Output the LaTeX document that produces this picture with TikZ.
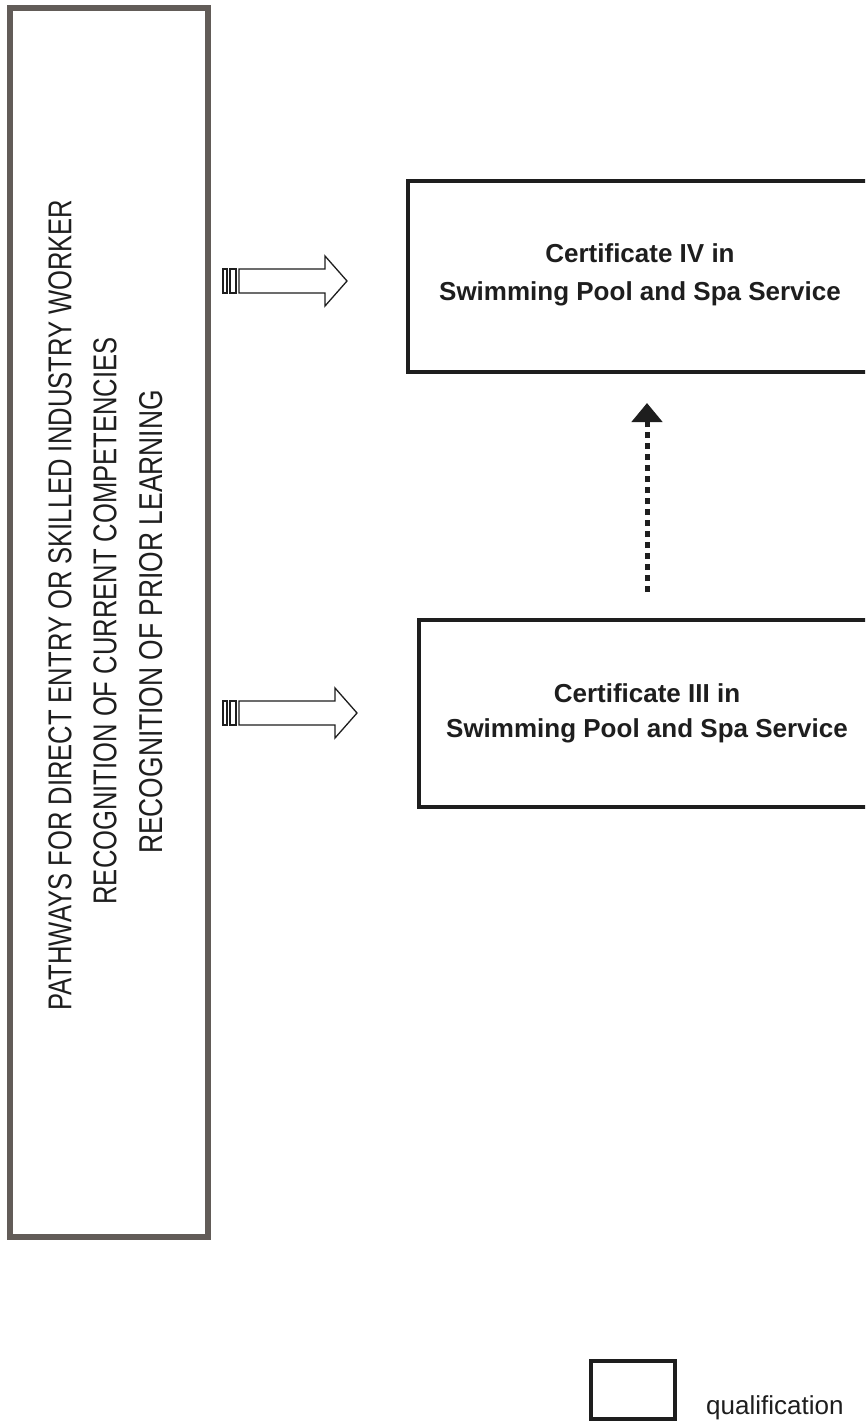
\documentclass[tikz,border=0pt]{standalone}
\usepackage{fontspec}
\setmainfont{Liberation Sans}
\usetikzlibrary{arrows.meta}
\definecolor{lbox}{HTML}{625C58}
\definecolor{ink}{HTML}{1E1E1E}
\begin{document}
\begin{tikzpicture}[x=1pt,y=-1pt,
  certbox/.style={draw=ink, line width=4pt, inner sep=0pt},
  sidebox/.style={draw=lbox, line width=6pt, inner sep=0pt},
  certtext/.style={font=\fontsize{26}{30}\selectfont\bfseries, text=ink, inner sep=0pt, anchor=base},
  sidetext/.style={font=\fontsize{33}{36}\selectfont, text=ink, inner sep=0pt, rotate=90},
  blockarrow/.style={draw=ink, line width=1.3pt, fill=white, line join=miter},
  dotarrow/.style={draw=ink, line width=5pt, dash pattern=on 6pt off 5pt, -{Triangle[width=30pt,length=19pt]}}
]
\useasboundingbox (0,0) rectangle (865,1422);
\clip (0,0) rectangle (865,1422);
\fill[white] (0,0) rectangle (865,1422);

% left pathway box
\node[sidebox, minimum width=197.5pt, minimum height=1229.5pt] (side) at (108.75,622.25) {};
\node[sidetext] (s1) at (60,605) {\scalebox{0.775}[1]{PATHWAYS FOR DIRECT ENTRY OR SKILLED INDUSTRY WORKER}};
\node[sidetext] (s2) at (105,621) {\scalebox{0.775}[1]{RECOGNITION OF CURRENT COMPETENCIES}};
\node[sidetext] (s3) at (151,622) {\scalebox{0.8}[1]{RECOGNITION OF PRIOR LEARNING}};

% certificate boxes
\node[certbox, minimum width=472.5pt, minimum height=191pt] (b4) at (643.75,276) {};
\node[certtext] (t4a) at (640,262) {Certificate IV in};
\node[certtext] (t4b) at (640,300) {Swimming Pool and Spa Service};

\node[certbox, minimum width=461.5pt, minimum height=187pt] (b3) at (649.25,713.5) {};
\node[certtext] (t3a) at (647,702) {Certificate III in};
\node[certtext] (t3b) at (647,737) {Swimming Pool and Spa Service};

% block arrows
\draw[blockarrow] (239,269) -- (325,269) -- (325,256) -- (347,281) -- (325,306) -- (325,293) -- (239,293) -- cycle;
\draw[blockarrow] (223,269) rectangle (227,293);
\draw[blockarrow] (230,269) rectangle (236,293);

\draw[blockarrow] (239,701) -- (335,701) -- (335,688) -- (357,713) -- (335,738) -- (335,725) -- (239,725) -- cycle;
\draw[blockarrow] (223,701) rectangle (227,725);
\draw[blockarrow] (230,701) rectangle (236,725);

% dotted progression arrow
\coordinate (ax) at (647,0);
\draw[dotarrow, shorten <=26pt, shorten >=29.5pt] (b3.north -| ax) -- (b4.south -| ax);

% legend
\node[certbox, minimum width=84pt, minimum height=58.5pt] (leg) at (633,1389.75) {};
\node[font=\fontsize{26}{30}\selectfont, text=ink, inner sep=0pt, anchor=base west] (legt) at (706,1414) {qualification};
\end{tikzpicture}
\end{document}
